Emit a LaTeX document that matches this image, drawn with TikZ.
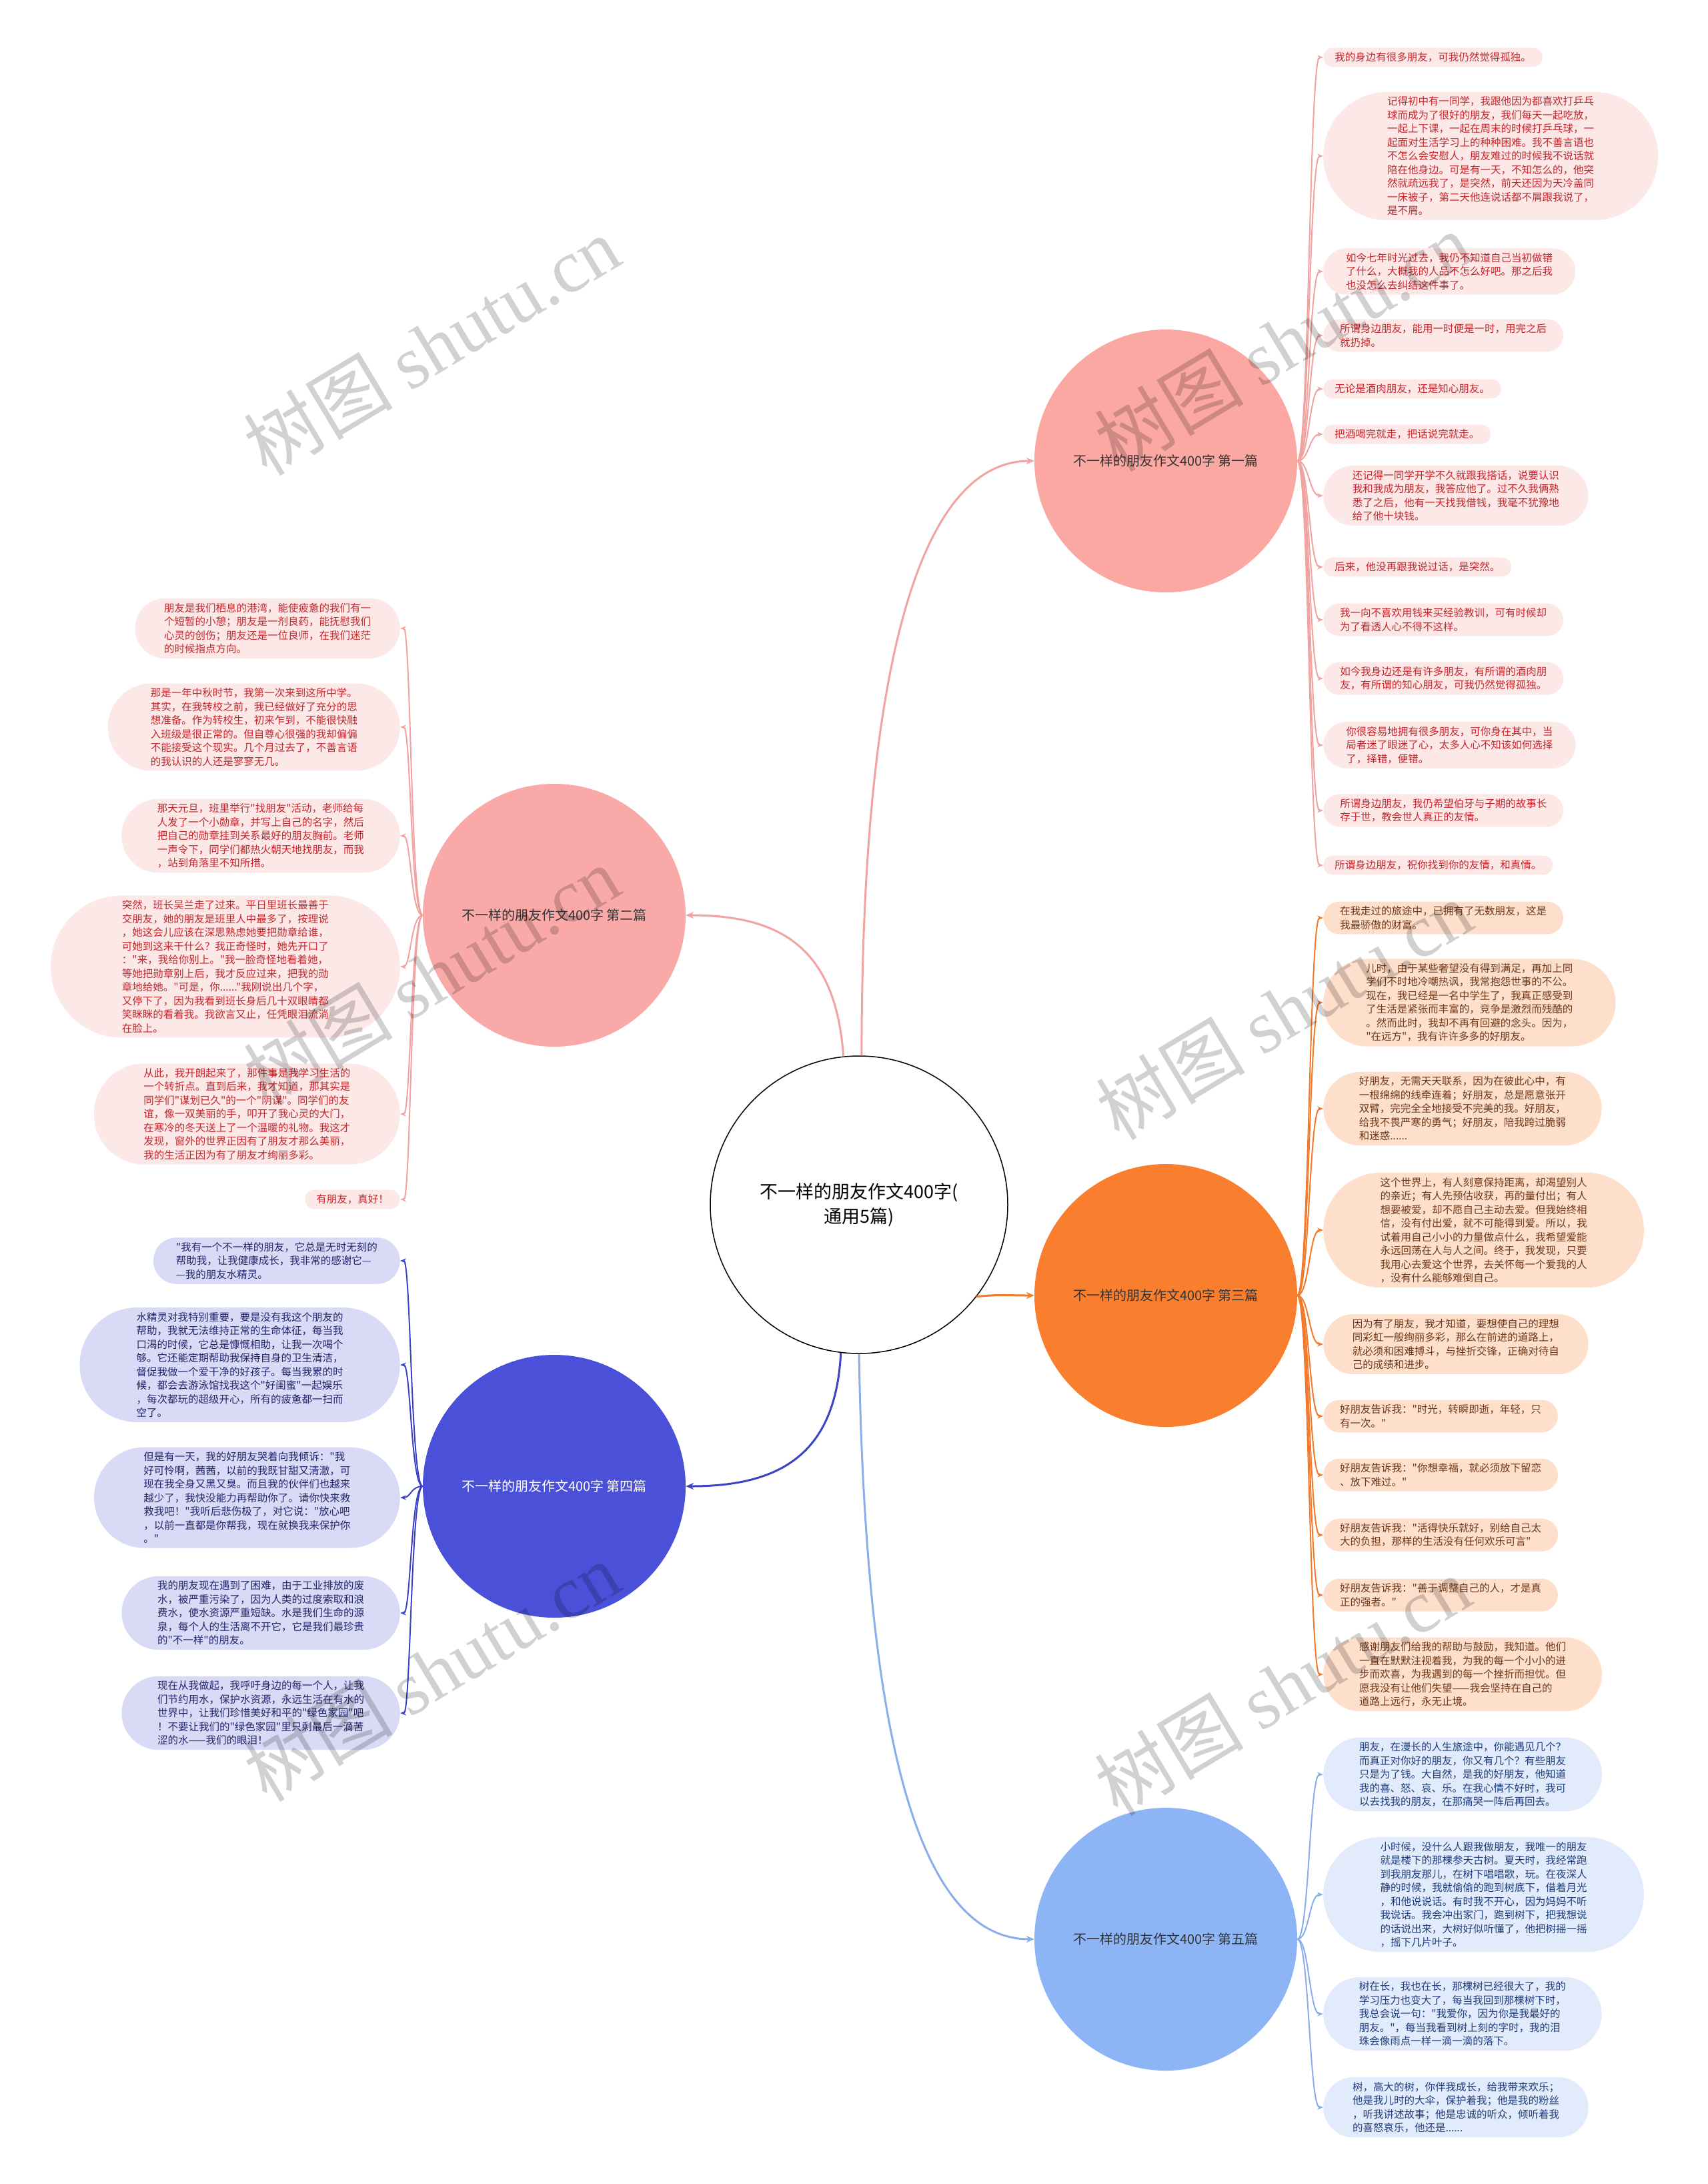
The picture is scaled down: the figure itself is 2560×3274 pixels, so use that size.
\documentclass[tikz,border=0pt]{standalone}
\usepackage{fontspec}
\setmainfont{Noto Sans CJK SC}[Ligatures=TeXOff]
\newfontfamily\wmserif{Liberation Serif}
\usetikzlibrary{shapes.misc,arrows.meta}
\definecolor{cB1}{HTML}{FBA7A2}
\definecolor{cB2}{HTML}{F9AAA8}
\definecolor{cB3}{HTML}{F97F2F}
\definecolor{cB4}{HTML}{4A50D8}
\definecolor{cB5}{HTML}{8DB5F5}
\definecolor{cL12}{HTML}{FDE8E8}
\definecolor{cL3}{HTML}{FDDFCC}
\definecolor{cL4}{HTML}{D9DBF6}
\definecolor{cL5}{HTML}{E2EBFB}
\definecolor{cT12}{HTML}{C3262C}
\definecolor{cT3}{HTML}{6F3818}
\definecolor{cT4}{HTML}{22246A}
\definecolor{cT5}{HTML}{1F3D7A}
\definecolor{cN1}{HTML}{F0A3A0}
\definecolor{cN3}{HTML}{F27A2C}
\definecolor{cN4}{HTML}{3D44C4}
\definecolor{cN5}{HTML}{8AAEEA}
\tikzset{
 leaf/.style={rounded rectangle, rounded rectangle arc length=180, inner xsep=15pt, inner ysep=7pt, align=left, font=\fontsize{15.5pt}{20.5pt}\selectfont},
 lr1/.style={leaf, anchor=west, fill=cL12, text=cT12},
 ll2/.style={leaf, anchor=east, fill=cL12, text=cT12},
 lr3/.style={leaf, anchor=west, fill=cL3, text=cT3},
 ll4/.style={leaf, anchor=east, fill=cL4, text=cT4},
 lr5/.style={leaf, anchor=west, fill=cL5, text=cT5},
 nl/.style={inner xsep={15pt+2.6pt*(#1-1)}},
 branch/.style={circle, minimum size=394pt, inner sep=0pt, font=\fontsize{20pt}{24pt}\selectfont, text=black!80},
 conn/.style={line width=2pt, -{Stealth[length=9pt,width=7pt]}},
 mconn/.style={line width=3pt, -{Stealth[length=12pt,width=10pt]}},
 wm/.style={rotate=31, text=black, text opacity=0.18, font=\fontsize{112pt}{112pt}\selectfont}
}
\begin{document}
\begin{tikzpicture}[x=1pt,y=-1pt]
\fill[white] (0,0) rectangle (2560,3274);
\path[use as bounding box] (0,0) rectangle (2560,3274);
\coordinate (tR) at (1963,0);
\coordinate (tL) at (616,0);
% center
\node[circle, minimum size=446pt, inner sep=0pt, draw=black, line width=1.5pt, fill=white, align=center, font=\fontsize{27pt}{37pt}\selectfont] (c) at (1288,1806) {不一样的朋友作文400字(\\通用5篇)};
% branches
\node[branch, fill=cB1] (b1) at (1748,691) {不一样的朋友作文400字 第一篇};
\node[branch, fill=cB2] (b2) at (831,1372) {不一样的朋友作文400字 第二篇};
\node[branch, fill=cB3] (b3) at (1748,1942) {不一样的朋友作文400字 第三篇};
\node[branch, fill=cB4, text=white] (b4) at (831,2228) {不一样的朋友作文400字 第四篇};
\node[branch, fill=cB5] (b5) at (1748,2907) {不一样的朋友作文400字 第五篇};
% main connectors
\draw[mconn, cN1] (c.89) .. controls (1292,1002) and (1378,691) .. (b1.west);
\draw[mconn, cN1] (c.96) .. controls (1253,1420) and (1170,1372) .. (b2.east);
\draw[mconn, cN3] (c.-38) .. controls (1500,1940) and (1510,1942) .. (b3.west);
\draw[mconn, cN4] (c.-97) .. controls (1253,2180) and (1170,2228) .. (b4.east);
\draw[mconn, cN5] (c.-90) .. controls (1298,2610) and (1378,2907) .. (b5.west);
% branch 1 leaves
\node[lr1, nl=1] (f1) at (1984,86) {我的身边有很多朋友，可我仍然觉得孤独。};
\node[lr1, nl=9] (f2) at (1984,234) {记得初中有一同学，我跟他因为都喜欢打乒乓\\球而成为了很好的朋友，我们每天一起吃放，\\一起上下课，一起在周末的时候打乒乓球，一\\起面对生活学习上的种种困难。我不善言语也\\不怎么会安慰人，朋友难过的时候我不说话就\\陪在他身边。可是有一天，不知怎么的，他突\\然就疏远我了，是突然，前天还因为天冷盖同\\一床被子，第二天他连说话都不屑跟我说了，\\是不屑。};
\node[lr1, nl=3] (f3) at (1984,407) {如今七年时光过去，我仍不知道自己当初做错\\了什么，大概我的人品不怎么好吧。那之后我\\也没怎么去纠结这件事了。};
\node[lr1, nl=2] (f4) at (1984,503) {所谓身边朋友，能用一时便是一时，用完之后\\就扔掉。};
\node[lr1, nl=1] (f5) at (1984,583) {无论是酒肉朋友，还是知心朋友。};
\node[lr1, nl=1] (f6) at (1984,651) {把酒喝完就走，把话说完就走。};
\node[lr1, nl=4] (f7) at (1984,743) {还记得一同学开学不久就跟我搭话，说要认识\\我和我成为朋友，我答应他了。过不久我俩熟\\悉了之后，他有一天找我借钱，我毫不犹豫地\\给了他十块钱。};
\node[lr1, nl=1] (f8) at (1984,850) {后来，他没再跟我说过话，是突然。};
\node[lr1, nl=2] (f9) at (1984,929) {我一向不喜欢用钱来买经验教训，可有时候却\\为了看透人心不得不这样。};
\node[lr1, nl=2] (f10) at (1984,1017) {如今我身边还是有许多朋友，有所谓的酒肉朋\\友，有所谓的知心朋友，可我仍然觉得孤独。};
\node[lr1, nl=3] (f11) at (1984,1117) {你很容易地拥有很多朋友，可你身在其中，当\\局者迷了眼迷了心，太多人心不知该如何选择\\了，择错，便错。};
\node[lr1, nl=2] (f12) at (1984,1215) {所谓身边朋友，我仍希望伯牙与子期的故事长\\存于世，教会世人真正的友情。};
\node[lr1, nl=1] (f13) at (1984,1297) {所谓身边朋友，祝你找到你的友情，和真情。};
\foreach \i in {1,...,13} \draw[conn, cN1] (b1.east) .. controls (tR |- b1.east) and (tR |- f\i.west) .. (f\i.west);
% branch 2 leaves
\node[ll2, nl=4] (g1) at (600,942) {朋友是我们栖息的港湾，能使疲惫的我们有一\\个短暂的小憩；朋友是一剂良药，能抚慰我们\\心灵的创伤；朋友还是一位良师，在我们迷茫\\的时候指点方向。};
\node[ll2, nl=6] (g2) at (600,1090) {那是一年中秋时节，我第一次来到这所中学。\\其实，在我转校之前，我已经做好了充分的思\\想准备。作为转校生，初来乍到，不能很快融\\入班级是很正常的。但自尊心很强的我却偏偏\\不能接受这个现实。几个月过去了，不善言语\\的我认识的人还是寥寥无几。};
\node[ll2, nl=5] (g3) at (600,1253) {那天元旦，班里举行"找朋友"活动，老师给每\\人发了一个小勋章，并写上自己的名字，然后\\把自己的勋章挂到关系最好的朋友胸前。老师\\一声令下，同学们都热火朝天地找朋友，而我\\，站到角落里不知所措。};
\node[ll2, nl=10] (g4) at (600,1449) {突然，班长吴兰走了过来。平日里班长最善于\\交朋友，她的朋友是班里人中最多了，按理说\\，她这会儿应该在深思熟虑她要把勋章给谁，\\可她到这来干什么？我正奇怪时，她先开口了\\："来，我给你别上。"我一脸奇怪地看着她，\\等她把勋章别上后，我才反应过来，把我的勋\\章地给她。"可是，你......"我刚说出几个字，\\又停下了，因为我看到班长身后几十双眼睛都\\笑眯眯的看着我。我欲言又止，任凭眼泪流淌\\在脸上。};
\node[ll2, nl=7] (g5) at (600,1670) {从此，我开朗起来了，那件事是我学习生活的\\一个转折点。直到后来，我才知道，那其实是\\同学们"谋划已久"的一个"阴谋"。同学们的友\\谊，像一双美丽的手，叩开了我心灵的大门，\\在寒冷的冬天送上了一个温暖的礼物。我这才\\发现，窗外的世界正因有了朋友才那么美丽，\\我的生活正因为有了朋友才绚丽多彩。};
\node[ll2, nl=1] (g6) at (600,1798) {有朋友，真好！};
\foreach \i in {1,...,6} \draw[conn, cN1] (b2.west) .. controls (tL |- b2.west) and (tL |- g\i.east) .. (g\i.east);
% branch 3 leaves
\node[lr3, nl=2] (h1) at (1984,1376) {在我走过的旅途中，已拥有了无数朋友，这是\\我最骄傲的财富。};
\node[lr3, nl=6] (h2) at (1984,1503) {儿时，由于某些奢望没有得到满足，再加上同\\学们不时地冷嘲热讽，我常抱怨世事的不公。\\现在，我已经是一名中学生了，我真正感受到\\了生活是紧张而丰富的，竞争是激烈而残酷的\\。然而此时，我却不再有回避的念头。因为，\\"在远方"，我有许许多多的好朋友。};
\node[lr3, nl=5] (h3) at (1984,1662) {好朋友，无需天天联系，因为在彼此心中，有\\一根绵绵的线牵连着；好朋友，总是愿意张开\\双臂，完完全全地接受不完美的我。好朋友，\\给我不畏严寒的勇气；好朋友，陪我跨过脆弱\\和迷惑......};
\node[lr3, nl=8] (h4) at (1984,1844) {这个世界上，有人刻意保持距离，却渴望别人\\的亲近；有人先预估收获，再酌量付出；有人\\想要被爱，却不愿自己主动去爱。但我始终相\\信，没有付出爱，就不可能得到爱。所以，我\\试着用自己小小的力量做点什么，我希望爱能\\永远回荡在人与人之间。终于，我发现，只要\\我用心去爱这个世界，去关怀每一个爱我的人\\，没有什么能够难倒自己。};
\node[lr3, nl=4] (h5) at (1984,2015) {因为有了朋友，我才知道，要想使自己的理想\\同彩虹一般绚丽多彩，那么在前进的道路上，\\就必须和困难搏斗，与挫折交锋，正确对待自\\己的成绩和进步。};
\node[lr3, nl=2] (h6) at (1984,2123) {好朋友告诉我："时光，转瞬即逝，年轻，只\\有一次。"};
\node[lr3, nl=2] (h7) at (1984,2211) {好朋友告诉我："你想幸福，就必须放下留恋\\、放下难过。"};
\node[lr3, nl=2] (h8) at (1984,2301) {好朋友告诉我："活得快乐就好，别给自己太\\大的负担，那样的生活没有任何欢乐可言"};
\node[lr3, nl=2] (h9) at (1984,2391) {好朋友告诉我："善于调整自己的人，才是真\\正的强者。"};
\node[lr3, nl=5] (h10) at (1984,2510) {感谢朋友们给我的帮助与鼓励，我知道。他们\\一直在默默注视着我，为我的每一个小小的进\\步而欢喜，为我遇到的每一个挫折而担忧。但\\愿我没有让他们失望——我会坚持在自己的\\道路上远行，永无止境。};
\foreach \i in {1,...,10} \draw[conn, cN3] (b3.east) .. controls (tR |- b3.east) and (tR |- h\i.west) .. (h\i.west);
% branch 4 leaves
\node[ll4, nl=3] (k1) at (600,1890) {"我有一个不一样的朋友，它总是无时无刻的\\帮助我，让我健康成长，我非常的感谢它—\\—我的朋友水精灵。};
\node[ll4, nl=8] (k2) at (600,2046) {水精灵对我特别重要，要是没有我这个朋友的\\帮助，我就无法维持正常的生命体征，每当我\\口渴的时候，它总是慷慨相助，让我一次喝个\\够。它还能定期帮助我保持自身的卫生清洁，\\督促我做一个爱干净的好孩子。每当我累的时\\候，都会去游泳馆找我这个"好闺蜜"一起娱乐\\，每次都玩的超级开心，所有的疲惫都一扫而\\空了。};
\node[ll4, nl=7] (k3) at (600,2245) {但是有一天，我的好朋友哭着向我倾诉："我\\好可怜啊，茜茜，以前的我既甘甜又清澈，可\\现在我全身又黑又臭。而且我的伙伴们也越来\\越少了，我快没能力再帮助你了。请你快来救\\救我吧！"我听后悲伤极了，对它说："放心吧\\，以前一直都是你帮我，现在就换我来保护你\\。"};
\node[ll4, nl=5] (k4) at (600,2418) {我的朋友现在遇到了困难，由于工业排放的废\\水，被严重污染了，因为人类的过度索取和浪\\费水，使水资源严重短缺。水是我们生命的源\\泉，每个人的生活离不开它，它是我们最珍贵\\的"不一样"的朋友。};
\node[ll4, nl=5] (k5) at (600,2568) {现在从我做起，我呼吁身边的每一个人，让我\\们节约用水，保护水资源，永远生活在有水的\\世界中，让我们珍惜美好和平的"绿色家园"吧\\！不要让我们的"绿色家园"里只剩最后一滴苦\\涩的水——我们的眼泪！};
\foreach \i in {1,...,5} \draw[conn, cN4] (b4.west) .. controls (tL |- b4.west) and (tL |- k\i.east) .. (k\i.east);
% branch 5 leaves
\node[lr5, nl=5] (m1) at (1984,2660) {朋友，在漫长的人生旅途中，你能遇见几个？\\而真正对你好的朋友，你又有几个？有些朋友\\只是为了钱。大自然，是我的好朋友，他知道\\我的喜、怒、哀、乐。在我心情不好时，我可\\以去找我的朋友，在那痛哭一阵后再回去。};
\node[lr5, nl=8] (m2) at (1984,2840) {小时候，没什么人跟我做朋友，我唯一的朋友\\就是楼下的那棵参天古树。夏天时，我经常跑\\到我朋友那儿，在树下唱唱歌，玩。在夜深人\\静的时候，我就偷偷的跑到树底下，借着月光\\，和他说说话。有时我不开心，因为妈妈不听\\我说话。我会冲出家门，跑到树下，把我想说\\的话说出来，大树好似听懂了，他把树摇一摇\\，摇下几片叶子。};
\node[lr5, nl=5] (m3) at (1984,3019) {树在长，我也在长，那棵树已经很大了，我的\\学习压力也变大了，每当我回到那棵树下时，\\我总会说一句："我爱你，因为你是我最好的\\朋友。"，每当我看到树上刻的字时，我的泪\\珠会像雨点一样一滴一滴的落下。};
\node[lr5, nl=4] (m4) at (1984,3159) {树，高大的树，你伴我成长，给我带来欢乐；\\他是我儿时的大伞，保护着我；他是我的粉丝\\，听我讲述故事；他是忠诚的听众，倾听着我\\的喜怒哀乐，他还是......};
\foreach \i in {1,...,4} \draw[conn, cN5] (b5.east) .. controls (tR |- b5.east) and (tR |- m\i.west) .. (m\i.west);
% watermarks
\node[wm] (w1) at (647,518) {树图 {\wmserif shutu.cn}};
\node[wm] (w2) at (1923,512) {树图 {\wmserif shutu.cn}};
\node[wm] (w3) at (647,1462) {树图 {\wmserif shutu.cn}};
\node[wm] (w4) at (1925,1514) {树图 {\wmserif shutu.cn}};
\node[wm] (w5) at (647,2506) {树图 {\wmserif shutu.cn}};
\node[wm] (w6) at (1923,2527) {树图 {\wmserif shutu.cn}};
\end{tikzpicture}
\end{document}
